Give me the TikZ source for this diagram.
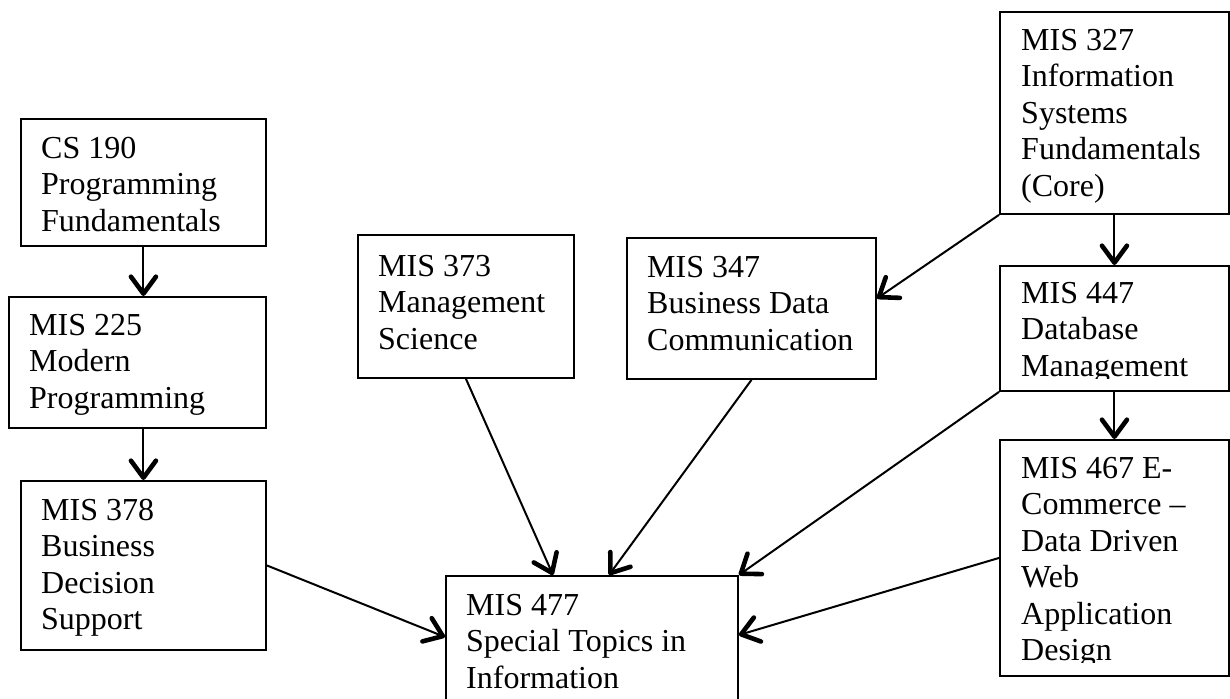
\documentclass[tikz,border=0pt]{standalone}
\usepackage{fontspec}
\setmainfont{Liberation Serif}
\usetikzlibrary{arrows.meta}
\tikzset{
  course/.style={draw, line width=1.9pt, rectangle, inner sep=0pt, anchor=north west, fill=white},
  ctext/.style={anchor=north west, inner sep=0pt, align=left, font=\fontsize{32pt}{36.5pt}\selectfont},
  link/.style={line width=2pt, -{Straight Barb[length=17pt,width=25pt,line width=4.6pt,round]}},
}
\newcommand\firstline{\rule{0pt}{25pt}}
\begin{document}
\begin{tikzpicture}[x=1pt,y=1pt]
\clip (0,0) rectangle (1230,698);
\fill[white] (0,0) rectangle (1230,698);
% boxes
\node[course, minimum width=245pt, minimum height=127pt] (cs) at (20,580) {};
\node[course, minimum width=257pt, minimum height=131pt] (m225) at (8,402) {};
\node[course, minimum width=245pt, minimum height=169pt] (m378) at (20,218) {};
\node[course, minimum width=216pt, minimum height=143pt] (m373) at (357,464) {};
\node[course, minimum width=249pt, minimum height=141pt] (m347) at (626,461) {};
\node[course, minimum width=229pt, minimum height=202pt] (m327) at (999,687) {};
\node[course, minimum width=229pt, minimum height=125pt] (m447) at (999,433) {};
\node[course, minimum width=229pt, minimum height=236pt] (m467) at (999,259) {};
\node[course, minimum width=292pt, minimum height=200pt] (m477) at (445,123) {};
% texts
\node[ctext] (tcs) at ([shift={(21pt,-15pt)}]cs.north west) {\firstline CS 190\\Programming\\Fundamentals};
\node[ctext] (t225) at ([shift={(21pt,-14pt)}]m225.north west) {\firstline MIS 225\\Modern\\Programming};
\node[ctext] (t378) at ([shift={(21pt,-15pt)}]m378.north west) {\firstline MIS 378\\Business\\Decision\\Support};
\node[ctext] (t373) at ([shift={(21pt,-17pt)}]m373.north west) {\firstline MIS 373\\Management\\Science};
\node[ctext] (t347) at ([shift={(21pt,-15pt)}]m347.north west) {\firstline MIS 347\\Business Data\\Communication};
\node[ctext] (t327) at ([shift={(22pt,-14pt)}]m327.north west) {\firstline MIS 327\\Information\\Systems\\Fundamentals\\(Core)};
\begin{scope}
  \clip (999,433) rectangle (1228,319);
  \node[ctext] (t447) at ([shift={(22pt,-13pt)}]m447.north west) {\firstline MIS 447\\Database\\Management};
\end{scope}
\begin{scope}
  \clip (999,259) rectangle (1228,35);
  \node[ctext] (t467) at ([shift={(22pt,-14pt)}]m467.north west) {\firstline MIS 467 E-\\Commerce --\\Data Driven\\Web\\Application\\Design};
\end{scope}
\node[ctext] (t477) at ([shift={(21pt,-15pt)}]m477.north west) {\firstline MIS 477\\Special Topics in\\Information};
% connectors
\draw[link] (cs.south) -- (cs.south |- m225.north);
\draw[link] (m378.north |- m225.south) -- (m378.north);
\draw[link] (m378.east) -- ([yshift=-62pt]m477.north west);
\draw[link] (m373.south) -- ([xshift=108pt]m477.north west);
\draw[link] (m347.south) -- ([xshift=164pt]m477.north west);
\draw[link] (m327.south west) -- ([yshift=10pt]m347.east);
\draw[link] (m327.south) -- (m327.south |- m447.north);
\draw[link] (m447.south) -- (m447.south |- m467.north);
\draw[link] (m447.south west) -- (m477.north east);
\draw[link] (m467.west) -- ([yshift=-60pt]m477.north east);
\end{tikzpicture}
\end{document}
